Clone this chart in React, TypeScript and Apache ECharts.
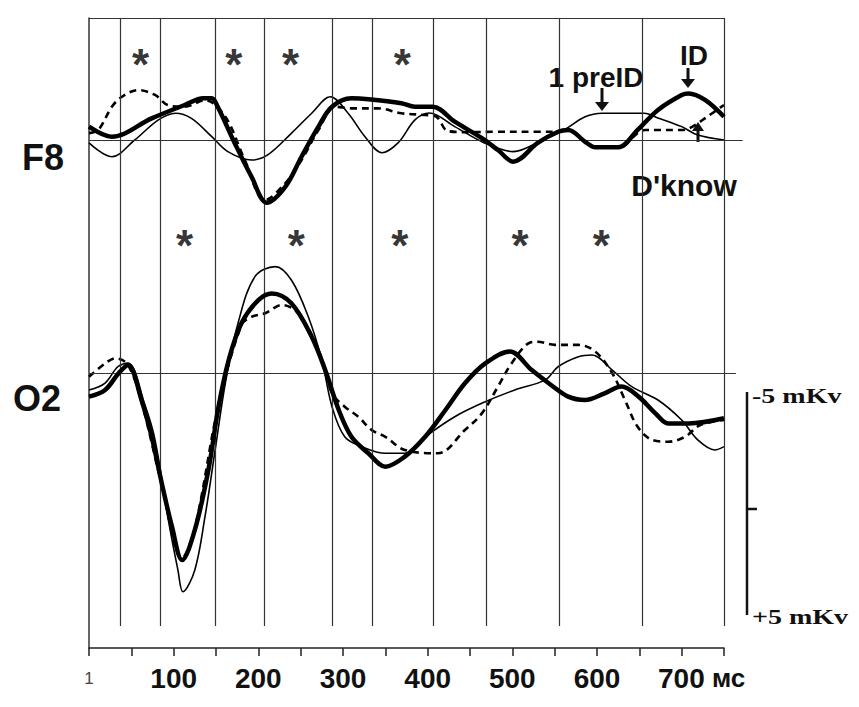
import React, { useEffect, useRef } from "react";
import * as echarts from "echarts";

// ---- axis / tick labels ----
const xTickValues = [0, 100, 200, 300, 400, 500, 600, 700];
const xTickTexts = ["1", "100", "200", "300", "400", "500", "600", "700"];
const xUnit = "мс";

// latency markers (vertical lines), ms
const markerLatencies = [37, 84, 149, 207, 287, 335, 407, 469, 556, 654, 750];

// significance asterisks, ms
const asteriskF8 = [61, 171, 238, 370];
const asteriskO2 = [113, 245, 367, 509, 605];

// ---- F8 ERPs: [ms, µV] (negative up) ----
const f8Id: [number, number][] = [
  [0, -0.6], [27, -0.15], [74, -0.97], [113, -1.57], [135, -1.87], [145, -1.87], [152, -1.49],
  [172, 0.13], [192, 1.65], [210, 2.81], [232, 2.09], [251, 0.75], [271, -0.6], [287, -1.49],
  [310, -1.87], [330, -1.83], [369, -1.65], [385, -1.49], [406, -1.49], [432, -0.82], [464, -0.08],
  [483, 0.45], [501, 0.97], [530, 0.13], [554, -0.37], [566, -0.45], [586, 0.08], [598, 0.33],
  [625, 0.33], [648, -0.45], [672, -1.35], [700, -2.02], [708, -2.09], [728, -1.79], [750, -1.04],
];
const f8PreId: [number, number][] = [
  [0, 0.13], [27, 0.75], [54, 0], [82, -0.9], [102, -1.2], [121, -0.97], [145, -0.15], [164, 0.52],
  [192, 0.9], [211, 0.67], [239, -0.3], [263, -1.2], [285, -1.94], [306, -1.2], [326, -0.15],
  [346, 0.57], [365, 0.13], [385, -0.9], [402, -1.21], [432, -0.6], [467, 0.13], [501, 0.52],
  [536, 0], [561, -0.45], [586, -1.04], [606, -1.2], [656, -1.2], [672, -0.99], [700, -0.6],
  [719, -0.22], [750, 0],
];
const f8Dknow: [number, number][] = [
  [0, -0.31], [11, -0.45], [27, -1.49], [39, -1.94], [58, -2.24], [78, -2.02], [93, -1.57],
  [113, -1.49], [137, -1.79], [161, -1.04], [184, 0.9], [208, 2.69], [232, 1.93], [251, 0.9],
  [271, -0.45], [291, -1.49], [310, -1.42], [341, -1.42], [369, -1.2], [397, -1.12], [410, -1.05],
  [424, -0.4], [450, -0.35], [476, -0.37], [532, -0.37], [556, -0.37], [566, -0.45], [586, 0.08],
  [598, 0.33], [625, 0.33], [657, -0.45], [700, -0.45], [710, -0.54], [730, -1.04], [750, -1.57],
];

// ---- O2 ERPs: [ms, µV] ----
const o2Id: [number, number][] = [
  [0, 1.06], [19, 0.76], [35, 0.01], [46, -0.36], [62, 1.21], [74, 2.86], [86, 4.95], [98, 6.89],
  [110, 8.39], [125, 7.04], [141, 4.35], [153, 1.51], [165, -0.58], [180, -2.23], [200, -3.27],
  [216, -3.57], [239, -3.13], [263, -1.63], [279, -0.13], [295, 1.66], [310, 2.86], [330, 3.6],
  [350, 4.2], [373, 3.75], [397, 2.86], [421, 1.66], [444, 0.46], [468, -0.43], [497, -0.96],
  [523, -0.13], [543, 0.46], [566, 1.06], [586, 1.21], [609, 0.91], [629, 0.61], [649, 1.06],
  [669, 1.81], [684, 2.26], [708, 2.26], [750, 2.03],
];
const o2PreId: [number, number][] = [
  [0, 0.76], [19, 0.45], [34, -0.28], [46, -0.45], [66, 1.43], [78, 3.0], [93, 6.44], [105, 8.83],
  [111, 9.81], [125, 8.83], [137, 6.44], [149, 3.45], [161, 0.46], [176, -2.23], [196, -4.32],
  [220, -4.77], [239, -4.17], [259, -2.52], [275, -0.58], [287, 1.51], [302, 2.86], [322, 3.3],
  [350, 3.6], [373, 3.6], [397, 2.86], [432, 1.96], [468, 1.29], [503, 0.76], [539, 0.31],
  [554, -0.28], [578, -0.73], [594, -0.81], [618, -0.13], [641, 0.61], [672, 1.21], [700, 2.11],
  [719, 3.0], [739, 3.45], [750, 3.3],
];
const o2Dknow: [number, number][] = [
  [0, 0.17], [19, -0.43], [31, -0.66], [46, -0.36], [62, 1.3], [86, 5.02], [110, 8.3], [125, 6.95],
  [153, 1.43], [180, -2.15], [192, -2.52], [208, -2.68], [228, -3.05], [247, -2.68], [271, -1.03],
  [287, 0.91], [302, 1.51], [318, 1.96], [334, 2.56], [350, 2.86], [373, 3.45], [412, 3.6],
  [444, 2.56], [464, 1.81], [483, 0.61], [499, -0.43], [519, -1.33], [530, -1.4], [550, -1.26],
  [578, -1.26], [598, -0.96], [618, 0.01], [633, 1.21], [648, 2.41], [665, 3.0], [684, 3.08],
  [704, 2.86], [722, 2.33], [750, 2.11],
];

const X_MAX = 750;
const PX_PER_MS = 635 / X_MAX;
const F8_XMAX = 772;
const O2_XMAX = 764;
const UV_PX = 22.3;
const F8_ROW_UV = -3.39;
const O2_ROW_UV = -5.7;

const SANS = '"Liberation Sans", Arial, sans-serif';
const SERIF = '"Liberation Serif", "Times New Roman", serif';

function buildOption() {
  const lineSeries = (
    name: string,
    data: [number, number][],
    idx: number,
    kind: "thick" | "thin" | "dash"
  ) => ({
    name,
    type: "line",
    xAxisIndex: idx,
    yAxisIndex: idx,
    data,
    smooth: 0.35,
    symbol: "none",
    clip: false,
    z: kind === "thick" ? 5 : kind === "dash" ? 4 : 3,
    lineStyle: {
      color: "#000",
      width: kind === "thick" ? 4.5 : kind === "thin" ? 1.6 : 2.6,
      type: kind === "dash" ? [7, 5] : "solid",
    },
  });

  const asteriskSeries = (data: number[], level: number, idx: number) => ({
    type: "scatter",
    xAxisIndex: idx,
    yAxisIndex: idx,
    data: data.map((t) => [t, level]),
    symbolSize: 1,
    itemStyle: { color: "rgba(0,0,0,0)" },
    label: {
      show: true,
      position: "inside",
      formatter: "*",
      fontSize: 44,
      fontWeight: "bold",
      fontFamily: SANS,
      color: "#000",
    },
    silent: true,
  });

  return {
    animation: false,
    backgroundColor: "#fff",
    grid: [
      { left: 89, top: 18, width: 635, height: 630 },
      { left: 89, top: 140 - 5 * UV_PX, width: F8_XMAX * PX_PER_MS, height: 10 * UV_PX },
      { left: 89, top: 373 - 10 * UV_PX, width: O2_XMAX * PX_PER_MS, height: 20 * UV_PX },
    ],
    xAxis: [
      {
        type: "value",
        gridIndex: 0,
        min: 0,
        max: X_MAX,
        interval: 50,
        splitLine: { show: false },
        axisLine: { show: true, lineStyle: { color: "#222", width: 1.5 } },
        axisTick: { show: true, length: 8, lineStyle: { color: "#222", width: 1.5 } },
        axisLabel: {
          margin: 16,
          formatter: (v: number) => {
            const i = xTickValues.indexOf(v);
            if (i < 0) return "";
            if (i === 0) return "{one|" + xTickTexts[i] + "}";
            if (i === xTickValues.length - 1)
              return "{pad| }{num|" + xTickTexts[i] + "}{unit| " + xUnit + "}";
            return "{num|" + xTickTexts[i] + "}";
          },
          rich: {
            num: { fontSize: 28, fontWeight: "bold", fontFamily: SANS, color: "#111" },
            one: { fontSize: 17, fontFamily: SANS, color: "#444", padding: [6, 0, 0, 0] },
            unit: { fontSize: 26, fontWeight: "bold", fontFamily: SANS, color: "#111" },
            pad: { width: 40, fontSize: 26 },
          },
        },
      },
      { type: "value", gridIndex: 1, min: 0, max: F8_XMAX, show: false },
      { type: "value", gridIndex: 2, min: 0, max: O2_XMAX, show: false },
    ],
    yAxis: [
      {
        type: "value",
        gridIndex: 0,
        min: 0,
        max: 1,
        axisLine: { show: true, lineStyle: { color: "#333", width: 1.5 } },
        axisTick: { show: false },
        axisLabel: { show: false },
        splitLine: { show: false },
      },
      { type: "value", gridIndex: 1, min: -5, max: 5, inverse: true, show: false },
      { type: "value", gridIndex: 2, min: -10, max: 10, inverse: true, show: false },
    ],
    series: [
      {
        type: "line",
        xAxisIndex: 0,
        yAxisIndex: 0,
        data: [],
        silent: true,
        markLine: {
          silent: true,
          symbol: ["none", "none"],
          label: { show: false },
          lineStyle: { color: "#333", width: 1.2, type: "solid" },
          data: [
            [{ coord: [0, 1] }, { coord: [X_MAX, 1] }],
            ...markerLatencies.map((t) => [{ coord: [t, 1] }, { coord: [t, 0.035] }]),
          ],
        },
      },
      {
        type: "line",
        xAxisIndex: 1,
        yAxisIndex: 1,
        data: [],
        silent: true,
        markLine: {
          silent: true,
          symbol: ["none", "none"],
          label: { show: false },
          lineStyle: { color: "#333", width: 1.2, type: "solid" },
          data: [{ yAxis: 0 }],
        },
      },
      {
        type: "line",
        xAxisIndex: 2,
        yAxisIndex: 2,
        data: [],
        silent: true,
        markLine: {
          silent: true,
          symbol: ["none", "none"],
          label: { show: false },
          lineStyle: { color: "#333", width: 1.2, type: "solid" },
          data: [{ yAxis: 0 }],
        },
      },
      lineSeries("1 preID F8", f8PreId, 1, "thin"),
      lineSeries("D'know F8", f8Dknow, 1, "dash"),
      lineSeries("ID F8", f8Id, 1, "thick"),
      lineSeries("1 preID O2", o2PreId, 2, "thin"),
      lineSeries("D'know O2", o2Dknow, 2, "dash"),
      lineSeries("ID O2", o2Id, 2, "thick"),
      asteriskSeries(asteriskF8, F8_ROW_UV, 1),
      asteriskSeries(asteriskO2, O2_ROW_UV, 2),
    ],
    graphic: [
      { type: "text", x: 43, y: 157, style: { text: "F8", font: `bold 36px ${SANS}`, fill: "#111", align: "center", verticalAlign: "middle" } },
      { type: "text", x: 37, y: 398, style: { text: "O2", font: `bold 36px ${SANS}`, fill: "#111", align: "center", verticalAlign: "middle" } },
      { type: "text", x: 596, y: 77, style: { text: "1 preID", font: `bold 28px ${SANS}`, fill: "#111", align: "center", verticalAlign: "middle" } },
      { type: "text", x: 694, y: 55, style: { text: "ID", font: `bold 28px ${SANS}`, fill: "#111", align: "center", verticalAlign: "middle" } },
      { type: "text", x: 684, y: 185, style: { text: "D'know", font: `bold 30px ${SANS}`, fill: "#111", align: "center", verticalAlign: "middle" } },
      // arrows
      { type: "line", shape: { x1: 602, y1: 88, x2: 602, y2: 103 }, style: { stroke: "#111", lineWidth: 3 } },
      { type: "polygon", shape: { points: [[595, 102], [609, 102], [602, 111]] }, style: { fill: "#111" } },
      { type: "line", shape: { x1: 688, y1: 68, x2: 688, y2: 80 }, style: { stroke: "#111", lineWidth: 3 } },
      { type: "polygon", shape: { points: [[681, 79], [695, 79], [688, 88]] }, style: { fill: "#111" } },
      { type: "line", shape: { x1: 698, y1: 142, x2: 698, y2: 130 }, style: { stroke: "#111", lineWidth: 3 } },
      { type: "polygon", shape: { points: [[692, 131], [704, 131], [698, 122]] }, style: { fill: "#111" } },
      // calibration bar
      { type: "line", shape: { x1: 747, y1: 392, x2: 747, y2: 615 }, style: { stroke: "#111", lineWidth: 2.5 } },
      { type: "line", shape: { x1: 747, y1: 509, x2: 757, y2: 509 }, style: { stroke: "#111", lineWidth: 2.5 } },
      { type: "text", x: 752, y: 396, scaleX: 1.4, originX: 0, originY: 0, style: { text: "-5 mKv", font: `bold 20px ${SERIF}`, fill: "#111", align: "left", verticalAlign: "middle" } },
      { type: "text", x: 752, y: 617, scaleX: 1.4, originX: 0, originY: 0, style: { text: "+5 mKv", font: `bold 20px ${SERIF}`, fill: "#111", align: "left", verticalAlign: "middle" } },
    ],
  };
}

export default function App() {
  const ref = useRef<HTMLDivElement>(null);
  useEffect(() => {
    if (!ref.current) return;
    const chart = echarts.init(ref.current, null, { renderer: "svg" });
    chart.setOption(buildOption() as any);
    return () => chart.dispose();
  }, []);
  return (
    <div
      ref={ref}
      style={{ position: "fixed", left: 0, top: 0, width: 859, height: 707, background: "#fff" }}
    />
  );
}
